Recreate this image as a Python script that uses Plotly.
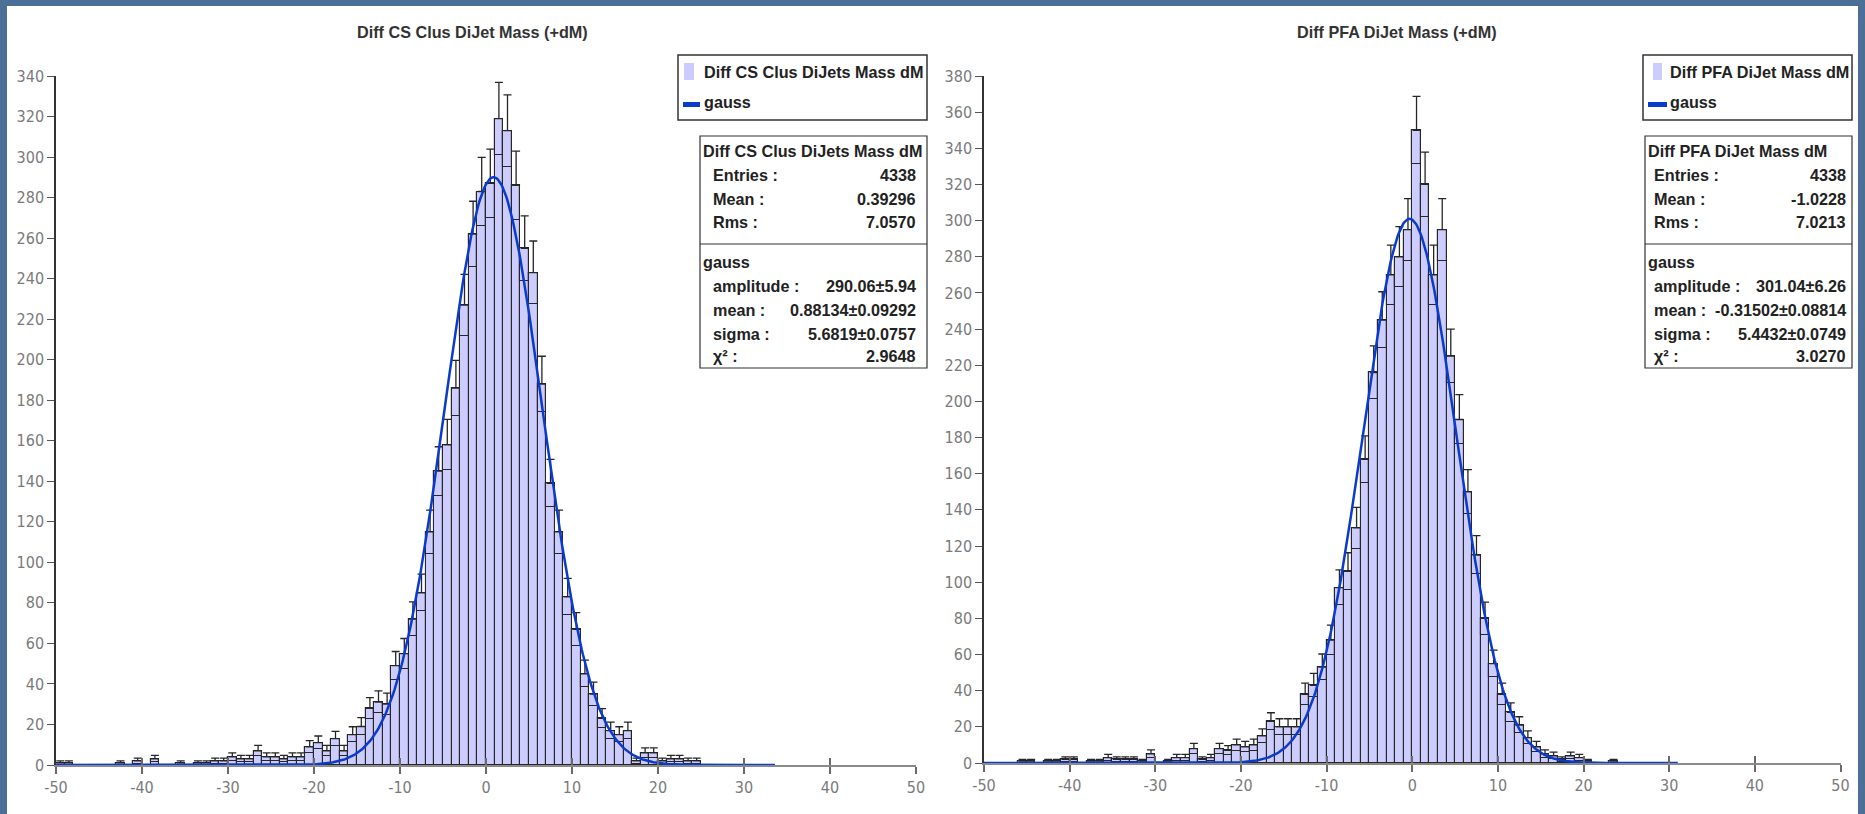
import numpy as np
import plotly.graph_objects as go

# ---------------- data ----------------
bin_lo = list(range(-50, 50))            # lower bin edges, bin width 1
bin_centers = [b + 0.5 for b in bin_lo]

cs_counts = [
    1, 1, 0, 0, 0, 0, 0, 1, 0, 2,            # -50 .. -41
    0, 3, 0, 0, 1, 0, 1, 1, 2, 2,            # -40 .. -31
    4, 3, 3, 7, 4, 4, 3, 4, 4, 9,            # -30 .. -21
    11, 7, 13, 7, 15, 19, 28, 31, 30, 49,    # -20 .. -11
    55, 72, 85, 115, 145, 158, 186, 227, 262, 283,   # -10 .. -1
    287, 319, 313, 286, 255, 243, 188, 139, 115, 83, # 0 .. 9
    67, 45, 35, 23, 17, 15, 17, 2, 6, 6,     # 10 .. 19
    2, 3, 3, 2, 2, 0, 0, 0, 0, 0,            # 20 .. 29
    0, 0, 0, 0, 0, 0, 0, 0, 0, 0,            # 30 .. 39
    0, 0, 0, 0, 0, 0, 0, 0, 0, 0,            # 40 .. 49
]

pfa_counts = [
    0, 0, 0, 0, 1, 1, 0, 1, 1, 2,            # -50 .. -41
    2, 0, 1, 1, 3, 2, 2, 2, 1, 5,            # -40 .. -31
    0, 1, 3, 3, 8, 2, 3, 8, 7, 10,           # -30 .. -21
    9, 10, 15, 23, 20, 20, 20, 38, 43, 53,   # -20 .. -11
    68, 97, 106, 130, 168, 216, 245, 270, 280, 295,  # -10 .. -1
    350, 320, 270, 295, 225, 190, 150, 115, 80, 55,  # 0 .. 9
    38, 28, 21, 14, 9, 5, 4, 2, 4, 3,        # 10 .. 19
    1, 0, 0, 1, 0, 0, 0, 0, 0, 0,            # 20 .. 29
    0, 0, 0, 0, 0, 0, 0, 0, 0, 0,            # 30 .. 39
    0, 0, 0, 0, 0, 0, 0, 0, 0, 0,            # 40 .. 49
]

# fitted gaussian parameters (from the stats boxes)
cs_fit = {"amplitude": 290.06, "mean": 0.88134, "sigma": 5.6819}
pfa_fit = {"amplitude": 301.04, "mean": -0.31502, "sigma": 5.4432}
cs_fit_range = (-50, 33.6)
pfa_fit_range = (-50, 31.0)

titles = ["Diff CS Clus DiJet Mass (+dM)", "Diff PFA DiJet Mass (+dM)"]
hist_names = ["Diff CS Clus DiJets Mass dM", "Diff PFA DiJet Mass dM"]
stats_rows = [
    [("Entries :", "4338"), ("Mean :", "0.39296"), ("Rms :", "7.0570")],
    [("Entries :", "4338"), ("Mean :", "-1.0228"), ("Rms :", "7.0213")],
]
fit_rows = [
    [("amplitude :", "290.06±5.94"), ("mean :", "0.88134±0.09292"),
     ("sigma :", "5.6819±0.0757"), ("χ² :", "2.9648")],
    [("amplitude :", "301.04±6.26"), ("mean :", "-0.31502±0.08814"),
     ("sigma :", "5.4432±0.0749"), ("χ² :", "3.0270")],
]

x_ticks = list(range(-50, 51, 10))
y_ticks = [list(range(0, 341, 20)), list(range(0, 381, 20))]
y_ranges = [(0, 340), (0, 380)]

# ---------------- layout geometry (pixels) ----------------
W, H = 1865, 814
def fx(p): return p / W
def fy(p): return 1 - p / H

panels = [
    dict(x0=56, x1=916, ybot=765, ytop=76, title_x=472,
         leg=(678, 927, 55, 120), sw_lav=(684, 694, 63, 80), sw_blue=(683, 700, 102, 107), leg_tx=702,
         st=(700, 927, 136, 368), st_lab=711, st_head=701, st_val=918),
    dict(x0=984, x1=1840.5, ybot=763, ytop=76, title_x=1397,
         leg=(1643, 1852, 55, 120), sw_lav=(1653, 1662, 63, 80), sw_blue=(1648, 1667, 102, 107), leg_tx=1668,
         st=(1645, 1852, 136, 368), st_lab=1652, st_head=1646, st_val=1848),
]

LAV = "#ccccff"
EDGE = "#262626"
BLUE = "#0a3bcc"
TICKFONT = dict(family="Liberation Sans Narrow, Arial Narrow, DejaVu Sans Condensed, sans-serif",
                size=16, color="#7a7a7a")
TXTFONT = "Liberation Sans, Arial, sans-serif"
TXTSIZE = 16.2

fig = go.Figure()
shapes = []
annotations = []

# white panel
shapes.append(dict(type="rect", xref="paper", yref="paper", x0=fx(7), x1=fx(1858), y0=0, y1=fy(6),
                   fillcolor="white", line=dict(width=0), layer="below"))

datasets = [(cs_counts, cs_fit, cs_fit_range), (pfa_counts, pfa_fit, pfa_fit_range)]

for i, (counts, fit, frange) in enumerate(datasets):
    xa = "x" if i == 0 else "x2"
    ya = "y" if i == 0 else "y2"
    xa_over = "x3" if i == 0 else "x4"
    counts = np.array(counts, dtype=float)
    err = np.sqrt(counts)
    vis = counts > 0
    yv = np.where(vis, counts, np.nan)
    base = np.where(vis, counts - err, np.nan)
    ev = np.where(vis, err, np.nan)

    fig.add_trace(go.Bar(x=bin_centers, y=yv, width=1, xaxis=xa, yaxis=ya,
                         marker=dict(color=LAV, line=dict(color=EDGE, width=1.1)),
                         showlegend=False, hoverinfo="skip"))
    fig.add_trace(go.Bar(x=bin_centers, y=ev, base=base, width=1, xaxis=xa, yaxis=ya,
                         marker=dict(color="rgba(0,0,0,0)", line=dict(color=EDGE, width=1.1)),
                         error_y=dict(type="data", array=ev, arrayminus=np.zeros_like(ev),
                                      color=EDGE, thickness=1.3, width=4, symmetric=False),
                         showlegend=False, hoverinfo="skip"))
    xs = np.linspace(frange[0], frange[1], 600)
    gy = fit["amplitude"] * np.exp(-0.5 * ((xs - fit["mean"]) / fit["sigma"]) ** 2)
    fig.add_trace(go.Scatter(x=xs, y=gy, mode="lines", xaxis=xa, yaxis=ya,
                             line=dict(color=BLUE, width=2.5), showlegend=False, hoverinfo="skip"))
    fig.add_trace(go.Scatter(x=[], y=[], xaxis=xa_over, yaxis=ya, showlegend=False, hoverinfo="skip"))

    p = panels[i]
    xdom = [fx(p["x0"]), fx(p["x1"])]
    ydom = [fy(p["ybot"]), fy(p["ytop"])]
    xkey = "xaxis" if i == 0 else "xaxis2"
    ykey = "yaxis" if i == 0 else "yaxis2"
    okey = "xaxis3" if i == 0 else "xaxis4"
    fig.update_layout(**{
        xkey: dict(domain=xdom, anchor=ya, range=[-50, 50], showgrid=False, zeroline=False,
                   showline=True, linecolor="#8a8a8a", linewidth=2, automargin=False,
                   ticks="outside", ticklen=7, tickwidth=1.5, tickcolor="#6a6a6a",
                   tickvals=x_ticks, ticktext=[str(t) for t in x_ticks], tickfont=TICKFONT),
        okey: dict(domain=xdom, anchor=ya, overlaying=xa, range=[-50, 50], showgrid=False,
                   zeroline=False, showline=False, ticks="inside", ticklen=7, tickwidth=1.5,
                   tickcolor="#6a6a6a", tickvals=x_ticks, showticklabels=False, automargin=False),
        ykey: dict(domain=ydom, anchor=xa, range=list(y_ranges[i]), showgrid=False, zeroline=False,
                   showline=True, linecolor="#333333", linewidth=1.5, automargin=False,
                   ticks="outside", ticklen=7, tickwidth=1.3, tickcolor="#555555",
                   tickvals=y_ticks[i], ticktext=[str(t) for t in y_ticks[i]], tickfont=TICKFONT),
    })

    annotations.append(dict(text="<b>" + titles[i] + "</b>", x=fx(p["title_x"]), y=fy(32),
                            xref="paper", yref="paper", showarrow=False, xanchor="center", yanchor="middle",
                            font=dict(family=TXTFONT, size=TXTSIZE, color="#333333")))
    lx0, lx1, ly0, ly1 = p["leg"]
    shapes.append(dict(type="rect", xref="paper", yref="paper", x0=fx(lx0), x1=fx(lx1), y0=fy(ly1), y1=fy(ly0),
                       fillcolor="white", line=dict(color="#333333", width=1.5)))
    a, b, c, d = p["sw_lav"]
    shapes.append(dict(type="rect", xref="paper", yref="paper", x0=fx(a), x1=fx(b), y0=fy(d), y1=fy(c),
                       fillcolor=LAV, line=dict(width=0)))
    a, b, c, d = p["sw_blue"]
    shapes.append(dict(type="rect", xref="paper", yref="paper", x0=fx(a), x1=fx(b), y0=fy(d), y1=fy(c),
                       fillcolor=BLUE, line=dict(width=0)))
    for txt, yy in [(hist_names[i], 72), ("gauss", 102)]:
        annotations.append(dict(text="<b>" + txt + "</b>", x=fx(p["leg_tx"]), y=fy(yy), xref="paper", yref="paper",
                                showarrow=False, xanchor="left", yanchor="middle",
                                font=dict(family=TXTFONT, size=TXTSIZE, color="#222222")))
    sx0, sx1, sy0, sy1 = p["st"]
    shapes.append(dict(type="rect", xref="paper", yref="paper", x0=fx(sx0), x1=fx(sx1), y0=fy(sy1), y1=fy(sy0),
                       fillcolor="white", line=dict(color="#333333", width=1.2)))
    shapes.append(dict(type="line", xref="paper", yref="paper", x0=fx(sx0), x1=fx(sx1), y0=fy(244), y1=fy(244),
                       line=dict(color="#333333", width=1.2)))
    sfont = dict(family=TXTFONT, size=TXTSIZE, color="#222222")
    annotations.append(dict(text="<b>" + hist_names[i] + "</b>", x=fx(p["st_head"]), y=fy(151), xref="paper",
                            yref="paper", showarrow=False, xanchor="left", yanchor="middle", font=sfont))
    annotations.append(dict(text="<b>gauss</b>", x=fx(p["st_head"]), y=fy(262), xref="paper",
                            yref="paper", showarrow=False, xanchor="left", yanchor="middle", font=sfont))
    rows = list(zip(stats_rows[i], [175, 199, 222.5])) + list(zip(fit_rows[i], [286, 310, 333.5, 356.5]))
    for (lab, val), yy in rows:
        annotations.append(dict(text="<b>" + lab + "</b>", x=fx(p["st_lab"]), y=fy(yy), xref="paper", yref="paper",
                                showarrow=False, xanchor="left", yanchor="middle", font=sfont))
        annotations.append(dict(text="<b>" + val + "</b>", x=fx(p["st_val"]), y=fy(yy), xref="paper", yref="paper",
                                showarrow=False, xanchor="right", yanchor="middle", font=sfont))

fig.update_layout(
    width=W, height=H, margin=dict(l=0, r=0, t=0, b=0, autoexpand=False),
    paper_bgcolor="#4b6f97", plot_bgcolor="rgba(0,0,0,0)",
    barmode="overlay", bargap=0, showlegend=False,
    shapes=shapes, annotations=annotations,
)

fig.write_html("out.html", config={"displayModeBar": False},
               post_script="document.body.style.margin='0px';document.body.style.overflow='hidden';")
